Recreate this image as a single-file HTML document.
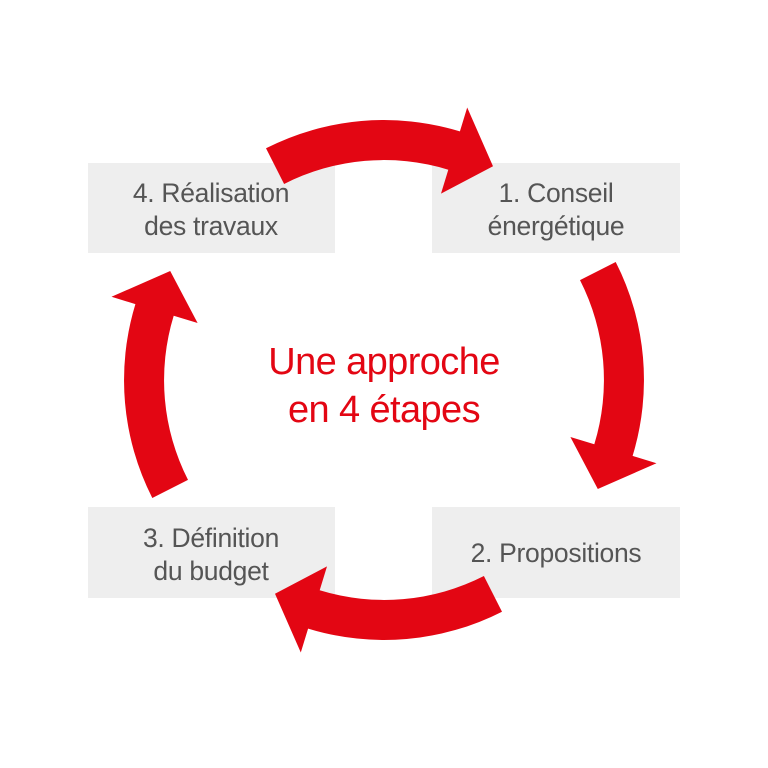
<!DOCTYPE html>
<html><head><meta charset="utf-8"><style>
html,body{margin:0;padding:0;background:#fff}
svg{display:block}
</style></head><body>
<svg width="768" height="768" viewBox="0 0 768 768" xmlns="http://www.w3.org/2000/svg">
<g fill="#eeeeee">
<rect x="88" y="163" width="247" height="90"/>
<rect x="432" y="163" width="248" height="90"/>
<rect x="432" y="507" width="248" height="91"/>
<rect x="88" y="507" width="247" height="91"/>
</g>
<g font-family="Liberation Sans, sans-serif" font-size="26.5" fill="#555" text-anchor="middle" letter-spacing="-0.3">
<text x="211" y="202">4. Réalisation</text>
<text x="211" y="235">des travaux</text>
<text x="556" y="202">1. Conseil</text>
<text x="556" y="235">énergétique</text>
<text x="556" y="562">2. Propositions</text>
<text x="211" y="547">3. Définition</text>
<text x="211" y="580">du budget</text>
</g>
<defs>
<path id="arr" d="M266,148.3 A260,260 0 0 1 459.9,131.4 L467.2,107.5 L493,166.2 L441,193.6 L448.3,169.7 A220,220 0 0 0 284.1,184 Z" fill="#e30613"/>
</defs>
<use href="#arr"/>
<use href="#arr" transform="rotate(90 384 380)"/>
<use href="#arr" transform="rotate(180 384 380)"/>
<use href="#arr" transform="rotate(270 384 380)"/>
<g font-family="Liberation Sans, sans-serif" font-size="38" fill="#e30613" text-anchor="middle" letter-spacing="-0.6">
<text x="384" y="374">Une approche</text>
<text x="384" y="422">en 4 étapes</text>
</g>
</svg>
</body></html>
